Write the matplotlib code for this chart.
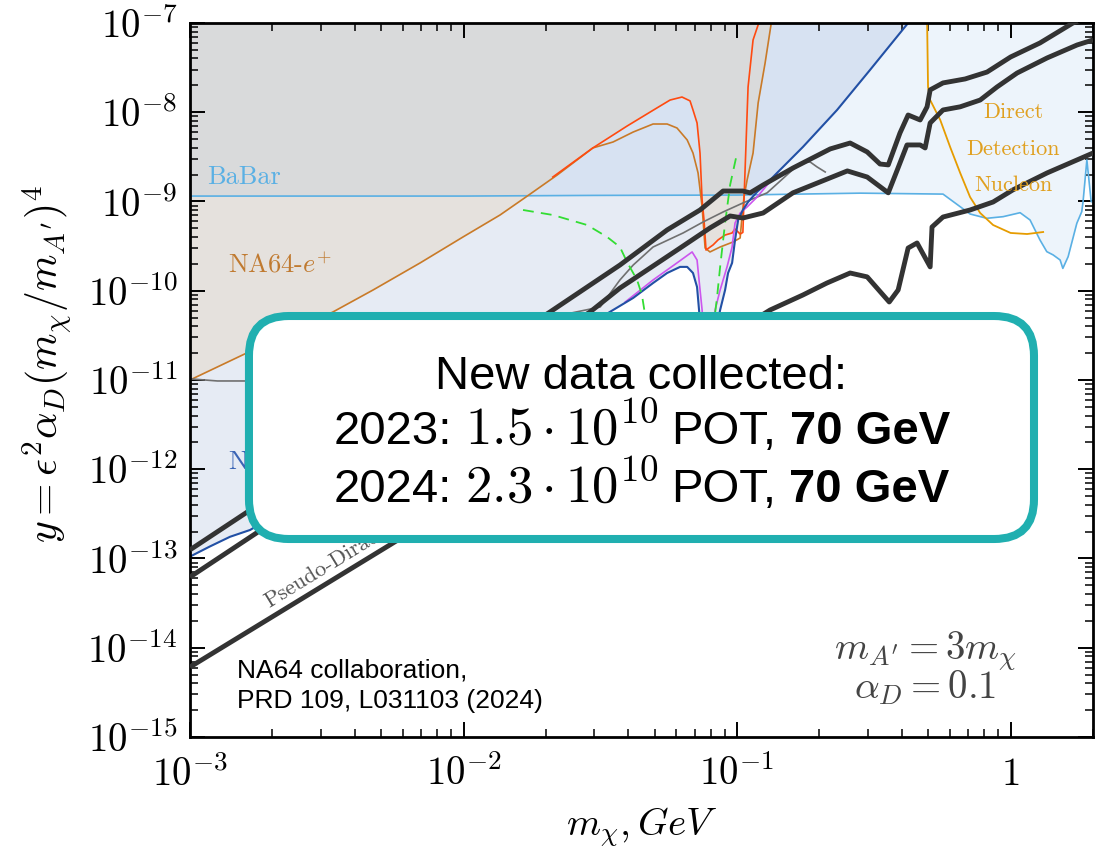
import numpy as np
import matplotlib
matplotlib.use('Agg')
import matplotlib.pyplot as plt
from matplotlib.patches import FancyBboxPatch
from matplotlib.offsetbox import AnchoredOffsetbox, HPacker, TextArea
from matplotlib.ticker import LogLocator, NullFormatter

plt.rcParams['mathtext.fontset'] = 'cm'

# BaBar mono-photon
babar_x = [1e-3, 1e-2, 3e-2, 0.1, 0.282, 0.566, 0.654, 0.711, 0.818, 0.939, 1.083, 1.178,
           1.28, 1.356, 1.43, 1.517, 1.552, 1.623, 1.746, 1.82, 1.84, 1.9, 1.97, 2.0]
babar_y = [1.15e-9, 1.15e-9, 1.17e-9, 1.18e-9, 1.24e-9, 1.21e-9, 8.74e-10, 7.24e-10, 6.48e-10,
           6.76e-10, 7.49e-10, 6.2e-10, 3.71e-10, 2.74e-10, 2.52e-10, 2.21e-10, 1.78e-10,
           2.41e-10, 5.7e-10, 7.69e-10, 9.95e-10, 2.92e-9, 9.95e-10, 1.0e-9]

# NA64 positron runs
brown_x = [1e-3, 3.33e-3, 4.67e-3, 6.94e-3, 9.95e-3, 1.36e-2, 1.71e-2, 2.2e-2, 2.97e-2, 3.52e-2,
           4.17e-2, 4.93e-2, 5.55e-2, 6.03e-2, 6.57e-2, 6.9e-2, 7.2e-2, 7.45e-2, 7.64e-2, 7.96e-2,
           8.67e-2, 9.67e-2, 0.1026, 0.104, 0.106, 0.1088, 0.1144, 0.1194, 0.1266, 0.134]
brown_y = [1.0e-11, 5.78e-11, 1.02e-10, 2.05e-10, 4.0e-10, 7.06e-10, 1.15e-9, 1.98e-9, 3.98e-9,
           4.64e-9, 6.0e-9, 7.38e-9, 7.38e-9, 6.66e-9, 4.89e-9, 3.49e-9, 2.09e-9, 8.68e-10,
           3.01e-10, 2.72e-10, 3.09e-10, 3.52e-10, 3.9e-10, 6.2e-10, 1.12e-9, 1.74e-9, 3.49e-9,
           1.27e-8, 3.56e-8, 1.1e-7]
red_x = [2.12e-2, 2.97e-2, 3.96e-2, 5.1e-2, 5.69e-2, 6.29e-2, 6.73e-2, 6.9e-2, 7.14e-2, 7.32e-2,
         7.45e-2, 7.57e-2, 7.7e-2, 8.17e-2, 8.52e-2, 9.04e-2, 9.59e-2, 9.83e-2, 0.1026, 0.105,
         0.106, 0.1097, 0.1144, 0.1213]
red_y = [1.88e-9, 3.98e-9, 7.0e-9, 1.12e-8, 1.37e-8, 1.48e-8, 1.34e-8, 1.06e-8, 7.58e-9, 3.49e-9,
         1.04e-9, 6.2e-10, 2.86e-10, 3.26e-10, 3.71e-10, 4.21e-10, 4.44e-10, 4.92e-10, 4.32e-10,
         4.5e-10, 1.04e-9, 1.92e-8, 6.45e-8, 1.1e-7]

# NA64 electron mode
blue_x = [1e-3, 1.18e-3, 1.4e-3, 1.66e-3, 3.52e-2, 4.17e-2, 4.93e-2, 5.55e-2, 6.19e-2, 6.57e-2,
          6.9e-2, 7.14e-2, 7.26e-2, 7.5e-2, 7.9e-2, 8.67e-2, 9.04e-2, 9.27e-2, 9.59e-2, 9.83e-2,
          0.1009, 0.105, 0.1097, 0.1183, 0.1288, 0.14, 0.174, 0.232, 0.306, 0.422]
blue_y = [1.05e-13, 1.36e-13, 1.75e-13, 2.09e-13, 6.08e-11, 8.3e-11, 1.22e-10, 1.58e-10, 1.85e-10,
          1.85e-10, 1.58e-10, 1.1e-10, 6.08e-11, 1.5e-11, 1.5e-11, 6.08e-11, 1.02e-10, 1.58e-10,
          2.05e-10, 3.71e-10, 6.2e-10, 8.03e-10, 9.87e-10, 1.28e-9, 1.61e-9, 2.09e-9, 4.08e-9,
          1.06e-8, 2.97e-8, 1e-7]
mag_x = [3.9e-2, 4.93e-2, 6.03e-2, 6.85e-2, 7.14e-2, 7.26e-2, 7.45e-2, 7.6e-2, 8.0e-2, 8.31e-2,
         8.67e-2, 9.19e-2, 9.59e-2, 9.83e-2, 0.1026, 0.1088, 0.1183, 0.1288, 0.14]
mag_y = [7.48e-11, 1.32e-10, 2.05e-10, 2.72e-10, 2.21e-10, 1.32e-10, 6.08e-11, 2e-11, 2e-11,
         6.08e-11, 1.02e-10, 1.85e-10, 3.09e-10, 5.74e-10, 7.43e-10, 8.68e-10, 1.12e-9, 1.53e-9,
         2.03e-9]
gray_x = [1e-3, 1.26e-3, 1.59e-3, 3.16e-2, 3.73e-2, 4.17e-2, 4.93e-2, 6.35e-2, 7.51e-2, 8.89e-2,
          0.105, 0.1288, 0.17, 0.185, 0.196, 0.21]
gray_y = [1.03e-11, 9.75e-12, 9.75e-12, 6.58e-11, 1.32e-10, 1.94e-10, 3.09e-10, 4.44e-10,
          5.89e-10, 7.63e-10, 9.62e-10, 1.25e-9, 2.7e-9, 2.77e-9, 2.44e-9, 2.14e-9]

# dashed projections
g1_x = [1.65e-2, 2.12e-2, 2.83e-2, 3.35e-2, 3.73e-2, 3.96e-2, 4.31e-2, 4.49e-2, 4.61e-2, 4.69e-2]
g1_y = [8.03e-10, 7.06e-10, 5.45e-10, 4.0e-10, 3.09e-10, 2.1e-10, 1.32e-10, 8.96e-11, 5.36e-11, 2.8e-11]
g2_x = [8.17e-2, 8.45e-2, 8.67e-2, 9.04e-2, 9.43e-2, 0.1]
g2_y = [3.63e-11, 8.5e-11, 1.85e-10, 5.74e-10, 1.53e-9, 3.49e-9]

# relic density targets
t1_x = [1e-3, 2.07e-2, 3.73e-2, 5.55e-2, 7.32e-2, 8.89e-2, 0.105, 0.1116, 0.1245, 0.16, 0.219,
        0.259, 0.299, 0.333, 0.357, 0.394, 0.422, 0.467, 0.495, 0.508, 0.566, 0.682, 0.82, 1.0,
        1.28, 1.69, 2.0]
t1_y = [1.25e-13, 5.78e-11, 1.94e-10, 4.8e-10, 8.03e-10, 1.31e-9, 1.31e-9, 1.25e-9, 1.53e-9,
        2.37e-9, 3.88e-9, 4.52e-9, 3.59e-9, 2.63e-9, 2.57e-9, 5.85e-9, 9.31e-9, 8.19e-9, 1.15e-8,
        1.78e-8, 2.13e-8, 2.36e-8, 2.82e-8, 4.16e-8, 5.97e-8, 1e-7, 1.2e-7]
t2_x = [1e-3, 2.9e-2, 3.73e-2, 6.19e-2, 7.96e-2, 9.43e-2, 0.105, 0.1245, 0.16, 0.253, 0.299,
        0.357, 0.385, 0.418, 0.467, 0.487, 0.508, 0.566, 0.654, 0.774, 0.892, 1.056, 1.36, 1.75, 2.0]
t2_y = [6.2e-14, 5.78e-11, 1.07e-10, 3.01e-10, 5.05e-10, 6.88e-10, 6.53e-10, 7.43e-10, 1.25e-9,
        2.2e-9, 1.88e-9, 1.25e-9, 2.25e-9, 4.3e-9, 4.3e-9, 3.98e-9, 7.58e-9, 1.06e-8, 1.15e-8,
        1.37e-8, 1.92e-8, 2.75e-8, 4.06e-8, 5.67e-8, 6.45e-8]
t3_x = [1e-3, 5.38e-3, 0.132, 0.174, 0.213, 0.259, 0.299, 0.36, 0.388, 0.422, 0.455, 0.508, 0.516,
        0.566, 0.711, 0.863, 1.02, 1.36, 2.0]
t3_y = [6.08e-15, 1.42e-13, 6.08e-11, 8.96e-11, 1.22e-10, 1.58e-10, 1.43e-10, 7.48e-11, 1.02e-10,
        3.01e-10, 3.43e-10, 1.85e-10, 5.18e-10, 6.7e-10, 8.03e-10, 9.87e-10, 1.35e-9, 2.09e-9, 3.49e-9]

# direct detection (nucleon)
dd_x = [0.495, 0.499, 0.508, 0.553, 0.601, 0.654, 0.711, 0.774, 0.863, 1.0, 1.149, 1.315]
dd_y = [1.1e-7, 1.92e-8, 1.37e-8, 8.19e-9, 4.08e-9, 2.09e-9, 1.12e-9, 7.43e-10, 5.45e-10,
        4.44e-10, 4.32e-10, 4.55e-10]

x_ticks = [1e-3, 1e-2, 1e-1, 1]
x_ticklabels = [r'$10^{-3}$', r'$10^{-2}$', r'$10^{-1}$', r'$1$']
y_ticks = [10.0 ** p for p in range(-15, -6)]
y_ticklabels = [r'$10^{%d}$' % p for p in range(-15, -6)]

TOP = 1e-6

fig = plt.figure(figsize=(11.04, 8.48), dpi=100)
ax = fig.add_axes([0.1721, 0.1309, 0.8179, 0.842])
ax.set_xscale('log')
ax.set_yscale('log')

# shaded exclusion regions
ax.fill_between(blue_x, blue_y, TOP, color='#3761ac', alpha=0.12, lw=0, zorder=1)
ax.fill_between(babar_x, babar_y, TOP, color='#559be1', alpha=0.10, lw=0, zorder=1)
bx, by = np.array(brown_x), np.array(brown_y)
rx, ry = np.array(red_x), np.array(red_y)
ep_x = np.concatenate([bx[bx < rx[0]], rx[rx <= 0.1], bx[bx > 0.1]])
ep_y = np.concatenate([by[bx < rx[0]], ry[rx <= 0.1], by[bx > 0.1]])
ax.fill_between(ep_x, ep_y, TOP, color='#e2ba82', alpha=0.2, lw=0, zorder=1)

ax.plot(babar_x, babar_y, color='#5ab0e4', lw=1.2, zorder=2)
ax.plot(brown_x, brown_y, color='#c97a28', lw=1.2, zorder=2)
ax.plot(red_x, red_y, color='#ff4a10', lw=1.2, zorder=2)
ax.plot(gray_x, gray_y, color='#707070', lw=1.2, zorder=2)
ax.plot(mag_x, mag_y, color='#cc55ee', lw=1.2, zorder=2)
ax.plot(blue_x, blue_y, color='#2250a5', lw=1.5, zorder=2)
ax.plot(dd_x, dd_y, color='#e69c00', lw=1.3, zorder=2)
ax.plot(g1_x, g1_y, color='#33dd33', lw=1.3, dashes=(6, 4), zorder=2)
ax.plot(g2_x, g2_y, color='#33dd33', lw=1.3, dashes=(6, 4), zorder=2)
for tx, ty in [(t1_x, t1_y), (t2_x, t2_y), (t3_x, t3_y)]:
    ax.plot(tx, ty, color='#333333', lw=3.5, solid_capstyle='butt', zorder=3)

ax.set_xlim(1e-3, 2)
ax.set_ylim(1e-15, 1e-7)
ax.set_xticks(x_ticks, labels=x_ticklabels)
ax.set_yticks(y_ticks, labels=y_ticklabels)
ax.xaxis.set_minor_locator(LogLocator(base=10, subs=np.arange(2, 10), numticks=100))
ax.yaxis.set_minor_locator(LogLocator(base=10, subs=np.arange(2, 10), numticks=100))
ax.xaxis.set_minor_formatter(NullFormatter())
ax.yaxis.set_minor_formatter(NullFormatter())
ax.tick_params(which='both', direction='in', top=True, right=True, labelsize=28)
ax.tick_params(which='major', length=11, width=1.4)
ax.tick_params(which='minor', length=6, width=1.1)
ax.tick_params(axis='y', pad=9)
ax.tick_params(axis='x', pad=13)
for s in ax.spines.values():
    s.set_linewidth(2.0)

ax.set_ylabel(r'$y = \epsilon^2\alpha_D(m_\chi/m_{A^\prime})^4$', fontsize=30)
ax.yaxis.set_label_coords(-0.129, 0.522)
ax.set_xlabel(r'$m_\chi, GeV$', fontsize=28)
ax.xaxis.set_label_coords(0.5, -0.095)

serif = 'cmr10'
ax.text(0.019, 0.775, 'BaBar', transform=ax.transAxes, color='#5ab0e4', fontsize=19,
        family=serif, va='baseline', zorder=4)
ax.text(0.042, 0.650, 'NA64-$e^{+}$', transform=ax.transAxes, color='#c07a30', fontsize=19,
        family=serif, va='baseline', zorder=4)
ax.text(0.042, 0.374, 'NA64', transform=ax.transAxes, color='#3a64b5', fontsize=19,
        family=serif, va='baseline', zorder=4)
ax.text(0.088, 0.181, 'Pseudo-Dirac', transform=ax.transAxes, color='#555555', fontsize=16,
        family=serif, rotation=31.5, rotation_mode='anchor', va='baseline', zorder=4)
for lab, yb in [('Direct', 0.867), ('Detection', 0.815), ('Nucleon', 0.764)]:
    ax.text(0.912, yb, lab, transform=ax.transAxes, color='#e0a020', fontsize=16,
            family=serif, ha='center', va='baseline', zorder=4)

ax.text(0.814, 0.042, r'$m_{A^\prime} = 3m_\chi$' + '\n' + r'$\alpha_D = 0.1$',
        transform=ax.transAxes, color='#444444', fontsize=28, ha='center',
        va='bottom', multialignment='center', linespacing=0.85, zorder=4)

sans = 'Liberation Sans'
ax.text(0.052, 0.084, 'NA64 collaboration,', transform=ax.transAxes, fontsize=19,
        family=sans, va='baseline', zorder=4)
ax.text(0.052, 0.041, 'PRD 109, L031103 (2024)', transform=ax.transAxes, fontsize=19,
        family=sans, va='baseline', zorder=4)

# announcement box
box = FancyBboxPatch((0.0653, 0.2773), 0.8694, 0.3123,
                     boxstyle='round,pad=0,rounding_size=0.044', mutation_aspect=1.265,
                     transform=ax.transAxes, facecolor='white', edgecolor='#20afb0',
                     linewidth=5.8, zorder=10, clip_on=False)
ax.add_patch(box)

ax.text(0.5, 0.4874, 'New data collected:', transform=ax.transAxes, fontsize=34,
        family=sans, ha='center', va='baseline', zorder=11)

runs = [('2023', r'1.5\cdot10^{10}', 0.431), ('2024', r'2.3\cdot10^{10}', 0.350)]
for year, pot, yc in runs:
    props = dict(fontsize=34, family=sans)
    line = HPacker(children=[TextArea(f'{year}:', textprops=props),
                             TextArea(f'${pot}$', textprops=dict(props, fontsize=38)),
                             TextArea('POT,', textprops=props),
                             TextArea('70 GeV', textprops=dict(props, fontweight='bold'))],
                   align='baseline', pad=0, sep=9.5)
    anc = AnchoredOffsetbox(loc='center', child=line, frameon=False, pad=0, borderpad=0,
                            bbox_to_anchor=(0.5, yc), bbox_transform=ax.transAxes)
    anc.set_zorder(11)
    ax.add_artist(anc)

fig.savefig('out.png', dpi=100, facecolor='white')
